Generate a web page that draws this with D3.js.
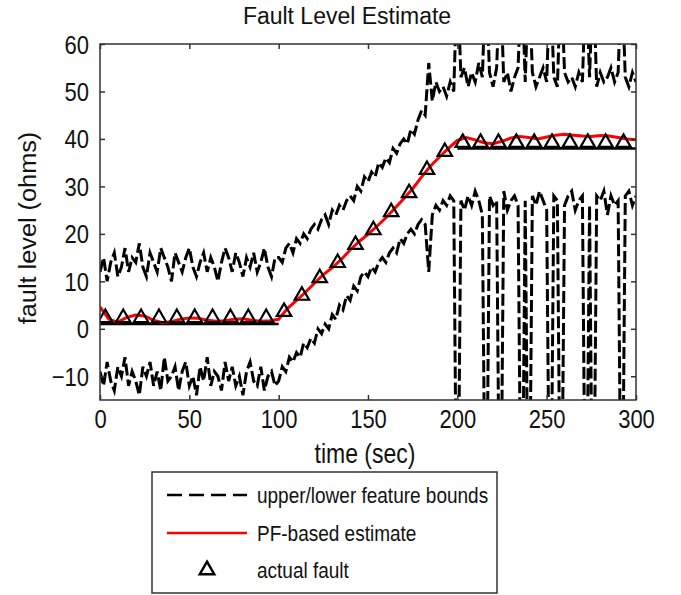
<!DOCTYPE html>
<html>
<head>
<meta charset="utf-8">
<script src="https://cdn.jsdelivr.net/npm/d3@7"></script>
<style>
  body { margin: 0; background: #fff; }
  text { font-family: "Liberation Sans", Arial, sans-serif; fill: #111; }
</style>
</head>
<body>
<svg width="681" height="595"></svg>
<script>
// sample step of the bound series (sec)
var boundStep = 2;

// upper feature bound, t = 0..300 every 2 sec
var upperBound = [
  12, 15, 10, 14, 16, 11, 13, 17, 12, 15, 14, 18, 13, 11, 16, 14, 12, 17, 15, 13,
  10, 16, 14, 12, 15, 17, 13, 11, 14, 16, 12, 15, 13, 10, 14, 17, 15, 12, 16, 14,
  11, 15, 13, 16, 12, 14, 17, 13, 11, 15,
  15, 14, 17, 18, 16, 19, 18, 20, 19, 21, 22, 21, 23, 24, 22, 25, 24, 26, 25, 27,
  28, 27, 30, 29, 32, 31, 33, 32, 35, 34, 36, 35, 38, 37, 39, 40, 39, 42, 41, 44,
  46, 45, 56, 48, 52, 50, 51, 49, 52, 50,
  75, 53, 55, 51, 54, 52, 56, 53, 75, 54, 51, 55, 75, 52, 54, 50, 53, 55, 75, 52,
  75, 54, 51, 53, 55, 52, 75, 53, 51, 75, 54, 52, 53, 51, 54, 52, 75, 53, 75, 51,
  54, 52, 53, 55, 52, 54, 75, 53, 51, 54, 52
];

// lower feature bound, t = 0..300 every 2 sec
var lowerBound = [
  -9, -12, -7, -11, -13, -8, -10, -6, -12, -9, -11, -14, -8, -10, -7, -12, -9, -13, -6, -11,
  -10, -8, -13, -9, -7, -12, -10, -14, -8, -11, -6, -12, -9, -10, -13, -7, -11, -8, -12, -10,
  -14, -9, -7, -11, -12, -8, -13, -10, -9, -12,
  -11, -8, -9, -6, -7, -5, -6, -3, -4, -2, -3, 0, -1, 1, 0, 3, 2, 5, 4, 7,
  6, 9, 8, 11, 12, 11, 13, 12, 14, 15, 14, 16, 17, 16, 19, 18, 20, 21, 20, 22,
  23, 22, 12, 24, 26, 25, 27, 26, 28, 27,
  -60, 27, 25, 28, 26, 29, 27, 24, -60, 28, 26, 27, -60, 29, 25, 27, 28, 26, -60, 27,
  -60, 28, 26, 29, 27, 25, -60, 28, 27, -60, 26, 28, 29, 25, 27, 28, -60, 26, -60, 28,
  27, 29, 24, 28, 26, 27, -60, 28, 29, 26, 28
];

// PF-based estimate
var estTime = [0, 5, 10, 15, 20, 25, 30, 35, 40, 45, 50, 55, 60, 65, 70, 75, 80, 85, 90, 95,
  100, 105, 110, 115, 120, 125, 130, 135, 140, 145, 150, 155, 160, 165, 170, 175, 180, 185, 190, 195,
  200, 205, 210, 215, 220, 225, 230, 235, 240, 245, 250, 255, 260, 265, 270, 275, 280, 285, 290, 295, 300];
var estValue = [4.6, 2.0, 1.4, 2.4, 2.9, 2.7, 1.8, 1.3, 1.5, 2.0, 2.3, 2.2, 1.8, 1.6, 1.7, 2.0, 2.1, 1.8, 1.6, 1.7,
  2.0, 4.3, 6.0, 7.7, 9.6, 11.4, 12.9, 14.6, 16.6, 18.4, 19.9, 21.6, 23.4, 25.4, 27.4, 29.5, 32.0, 34.3, 36.2, 38.0,
  39.7, 40.3, 39.8, 39.2, 39.0, 39.5, 40.2, 40.5, 40.3, 40.0, 40.4, 40.8, 41.0, 40.8, 40.6, 40.5, 40.7, 40.6, 40.3, 40.0, 39.8];

// actual fault markers
var faultTime = [3, 13, 23, 33, 43, 53, 63, 73, 83, 93, 103, 113, 123, 133, 143, 153, 163, 173, 183, 193,
  203, 213, 223, 233, 243, 253, 263, 273, 283, 293];
var faultValue = [2.3, 2.3, 2.3, 2.3, 2.3, 2.3, 2.3, 2.3, 2.3, 2.3, 3.6, 7.0, 10.7, 13.9, 17.7, 20.8, 24.6, 28.6, 33.5, 37.3,
  39.2, 39.2, 39.2, 39.2, 39.2, 39.2, 39.2, 39.2, 39.2, 39.2];

// flat fault level segments (solid black)
var levelSegments = [[[0, 1], [100, 1]], [[200, 38], [300, 38]]];

var xTicks = [0, 50, 100, 150, 200, 250, 300];
var yTicks = [-10, 0, 10, 20, 30, 40, 50, 60];
var legendLabels = ["upper/lower feature bounds", "PF-based estimate", "actual fault"];

var svg = d3.select("svg");
var tickFs = 22, titleFs = 23, labelFs = 23, legendFs = 19;
var stretch = "scale(1,1.18)";

var x = d3.scaleLinear().domain([0, 300]).range([100, 636]);
var y = d3.scaleLinear().domain([-15, 60]).range([400, 44]);

svg.append("defs").append("clipPath").attr("id", "plotclip")
  .append("rect").attr("x", 100).attr("y", 44).attr("width", 536).attr("height", 356);

var plot = svg.append("g").attr("clip-path", "url(#plotclip)");

var line = d3.line().x(function (d) { return x(d[0]); }).y(function (d) { return y(d[1]); });

function pairs(vals) {
  return vals.map(function (v, i) { return [i * boundStep, v]; });
}

[upperBound, lowerBound].forEach(function (s) {
  plot.append("path")
    .attr("d", line(pairs(s)))
    .attr("fill", "none")
    .attr("stroke", "#000")
    .attr("stroke-width", 3)
    .attr("stroke-dasharray", "12,4");
});

levelSegments.forEach(function (seg) {
  plot.append("path")
    .attr("d", line(seg))
    .attr("fill", "none")
    .attr("stroke", "#000")
    .attr("stroke-width", 2.5);
});

plot.append("path")
  .attr("d", line(estTime.map(function (t, i) { return [t, estValue[i]]; })))
  .attr("fill", "none")
  .attr("stroke", "#ff0000")
  .attr("stroke-width", 3);

var tri = d3.symbol().type(d3.symbolTriangle).size(90);
plot.selectAll(".tri")
  .data(faultTime)
  .enter().append("path")
  .attr("class", "tri")
  .attr("d", tri)
  .attr("transform", function (d, i) { return "translate(" + x(d) + "," + y(faultValue[i]) + ")"; })
  .attr("fill", "none")
  .attr("stroke", "#000")
  .attr("stroke-width", 2.2);

// axes box with inward ticks on all sides
var axisColor = "#333";
var gx = svg.append("g").attr("transform", "translate(0,400)")
  .call(d3.axisBottom(x).tickValues(xTicks).tickSizeInner(-5).tickSizeOuter(0))
  .call(function (g) { g.select(".domain").remove(); });
gx.selectAll(".tick text").attr("y", 0).attr("dy", 0).attr("transform", "translate(0,28) " + stretch);

svg.append("g").attr("transform", "translate(0,44)")
  .call(d3.axisTop(x).tickValues(xTicks).tickSizeInner(-5).tickSizeOuter(0).tickFormat(""))
  .call(function (g) { g.select(".domain").remove(); });

var gy = svg.append("g").attr("transform", "translate(100,0)")
  .call(d3.axisLeft(y).tickValues(yTicks).tickSizeInner(-5).tickSizeOuter(0))
  .call(function (g) { g.select(".domain").remove(); });
gy.selectAll(".tick text").attr("x", 0).attr("dy", 0).attr("transform", "translate(-11,9) " + stretch);

svg.append("g").attr("transform", "translate(636,0)")
  .call(d3.axisRight(y).tickValues(yTicks).tickSizeInner(-5).tickSizeOuter(0).tickFormat(""))
  .call(function (g) { g.select(".domain").remove(); });

svg.selectAll(".tick line").attr("stroke", axisColor).attr("stroke-width", 1.5);
svg.selectAll(".tick text")
  .style("font-size", tickFs + "px")
  .style("font-family", "Liberation Sans, Arial, sans-serif")
  .attr("fill", "#111");

svg.append("rect")
  .attr("x", 100).attr("y", 44).attr("width", 536).attr("height", 356)
  .attr("fill", "none").attr("stroke", axisColor).attr("stroke-width", 1.5);

// titles
svg.append("text").attr("transform", "translate(347,24) scale(1,1.08)").attr("text-anchor", "middle")
  .style("font-size", titleFs + "px").text("Fault Level Estimate");
svg.append("text").attr("transform", "translate(365,463) " + stretch).attr("text-anchor", "middle")
  .style("font-size", labelFs + "px").text("time (sec)");
svg.append("text").attr("transform", "translate(36,228) rotate(-90) scale(1.1,1.05)").attr("text-anchor", "middle")
  .style("font-size", "23px").text("fault level (ohms)");

// legend
var lg = svg.append("g");
lg.append("rect").attr("x", 152).attr("y", 472).attr("width", 345).attr("height", 121)
  .attr("fill", "#fff").attr("stroke", axisColor).attr("stroke-width", 1.5);
var rowY = [495, 533, 570];
lg.append("line").attr("x1", 167).attr("x2", 247).attr("y1", rowY[0]).attr("y2", rowY[0])
  .attr("stroke", "#000").attr("stroke-width", 2.5).attr("stroke-dasharray", "15,7");
lg.append("line").attr("x1", 167).attr("x2", 247).attr("y1", rowY[1]).attr("y2", rowY[1])
  .attr("stroke", "#ff0000").attr("stroke-width", 2.5);
lg.append("path").attr("d", tri).attr("transform", "translate(207," + rowY[2] + ")")
  .attr("fill", "none").attr("stroke", "#000").attr("stroke-width", 2.5);
legendLabels.forEach(function (t, i) {
  lg.append("text").attr("transform", "translate(257," + (rowY[i] + 8) + ") " + stretch)
    .style("font-size", legendFs + "px").text(t);
});
</script>
</body>
</html>
